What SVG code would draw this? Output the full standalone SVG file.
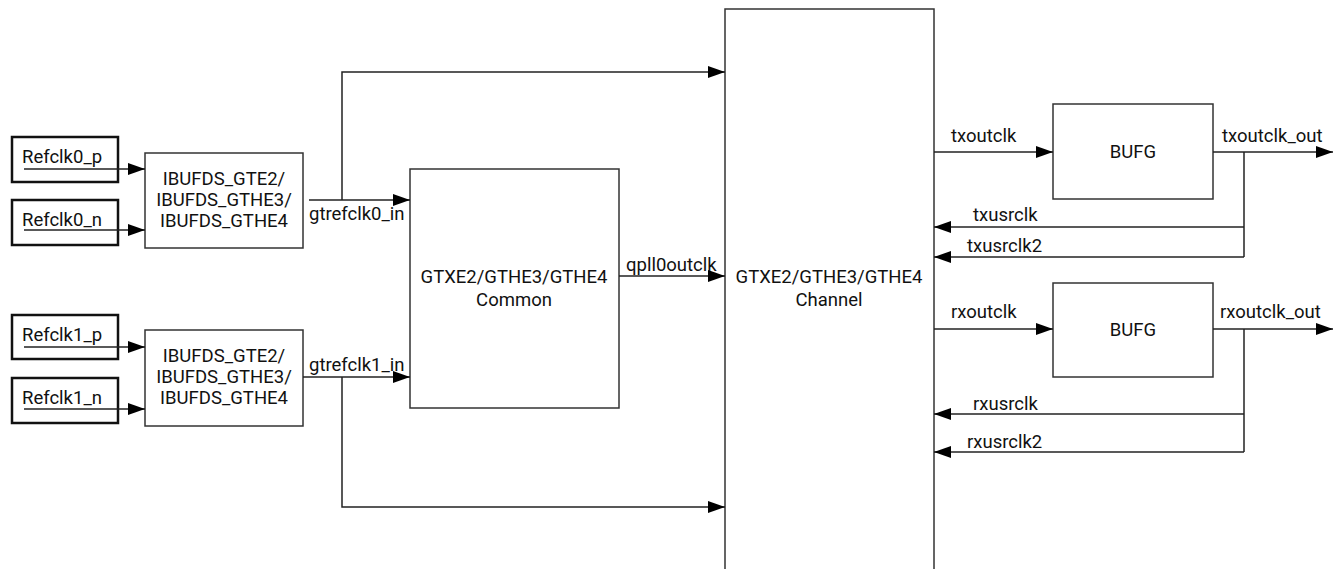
<svg xmlns="http://www.w3.org/2000/svg" width="1342" height="569" viewBox="0 0 1342 569">
<defs>
<marker id="arr" markerUnits="userSpaceOnUse" markerWidth="17" markerHeight="12" refX="17" refY="6" orient="auto">
<path d="M0,0 L17,6 L0,12 Z" fill="#000"/>
</marker>
<style>
text{font-family:Roboto,"Liberation Sans",sans-serif;font-size:18.5px;fill:#111}
.c{text-anchor:middle}
.box{fill:#fff;stroke:#333;stroke-width:1.5}
.pin{fill:#fff;stroke:#111;stroke-width:2.5}
.w{fill:none;stroke:#222;stroke-width:1.5}
.a{fill:none;stroke:#222;stroke-width:1.5;marker-end:url(#arr)}
</style>
</defs>
<rect width="1342" height="569" fill="#fff"/>
<g id="refclk0_p"><rect class="pin" x="12" y="137" width="106" height="45"/><text x="22" y="163">Refclk0_p</text></g>
<g id="refclk0_n"><rect class="pin" x="12" y="200" width="106" height="45"/><text x="22" y="226">Refclk0_n</text></g>
<g id="refclk1_p"><rect class="pin" x="12" y="315" width="106" height="44"/><text x="22" y="341">Refclk1_p</text></g>
<g id="refclk1_n"><rect class="pin" x="12" y="378" width="106" height="45"/><text x="22" y="404">Refclk1_n</text></g>
<g id="ibuf0"><rect class="box" x="145" y="153" width="158" height="95"/>
<text class="c" x="224" y="185">IBUFDS_GTE2/</text><text class="c" x="224" y="206">IBUFDS_GTHE3/</text><text class="c" x="224" y="227">IBUFDS_GTHE4</text></g>
<g id="ibuf1"><rect class="box" x="145" y="330" width="158" height="96"/>
<text class="c" x="224" y="362">IBUFDS_GTE2/</text><text class="c" x="224" y="383">IBUFDS_GTHE3/</text><text class="c" x="224" y="404">IBUFDS_GTHE4</text></g>
<g id="common"><rect class="box" x="410" y="169" width="209" height="239"/>
<text class="c" x="514" y="283">GTXE2/GTHE3/GTHE4</text><text class="c" x="514" y="306">Common</text></g>
<g id="channel"><rect class="box" x="725" y="9" width="209" height="580"/>
<text class="c" x="829" y="283">GTXE2/GTHE3/GTHE4</text><text class="c" x="829" y="306">Channel</text></g>
<g id="bufg_tx"><rect class="box" x="1053" y="104" width="160" height="95"/><text class="c" x="1133" y="158">BUFG</text></g>
<g id="bufg_rx"><rect class="box" x="1053" y="283" width="160" height="94"/><text class="c" x="1133" y="336">BUFG</text></g>
<g id="connectors">
<path class="a" d="M24,169 H145"/>
<path class="a" d="M24,230 H145"/>
<path class="a" d="M24,347 H145"/>
<path class="a" d="M24,409 H145"/>
<path class="a" d="M309,200 H410"/>
<path class="a" d="M342,200 V72 H725"/>
<path class="a" d="M303,377 H410"/>
<path class="a" d="M342,377 V507 H725"/>
<path class="a" d="M619,276 H725"/>
<path class="a" d="M934,152 H1053"/>
<path class="a" d="M1213,152 H1333"/>
<path class="w" d="M1244,152 V257"/>
<path class="a" d="M1244,227 H934"/>
<path class="a" d="M1244,257 H934"/>
<path class="a" d="M934,329 H1053"/>
<path class="a" d="M1213,329 H1333"/>
<path class="w" d="M1244,329 V452"/>
<path class="a" d="M1244,414 H934"/>
<path class="a" d="M1244,452 H934"/>
</g>
<g id="labels">
<text x="309" y="220">gtrefclk0_in</text>
<text x="309" y="371">gtrefclk1_in</text>
<text x="626" y="271">qpll0outclk</text>
<text x="951" y="142">txoutclk</text>
<text x="1222" y="142">txoutclk_out</text>
<text x="973" y="221">txusrclk</text>
<text x="967" y="252">txusrclk2</text>
<text x="951" y="318">rxoutclk</text>
<text x="1220" y="318">rxoutclk_out</text>
<text x="973" y="410">rxusrclk</text>
<text x="967" y="448">rxusrclk2</text>
</g>
</svg>
